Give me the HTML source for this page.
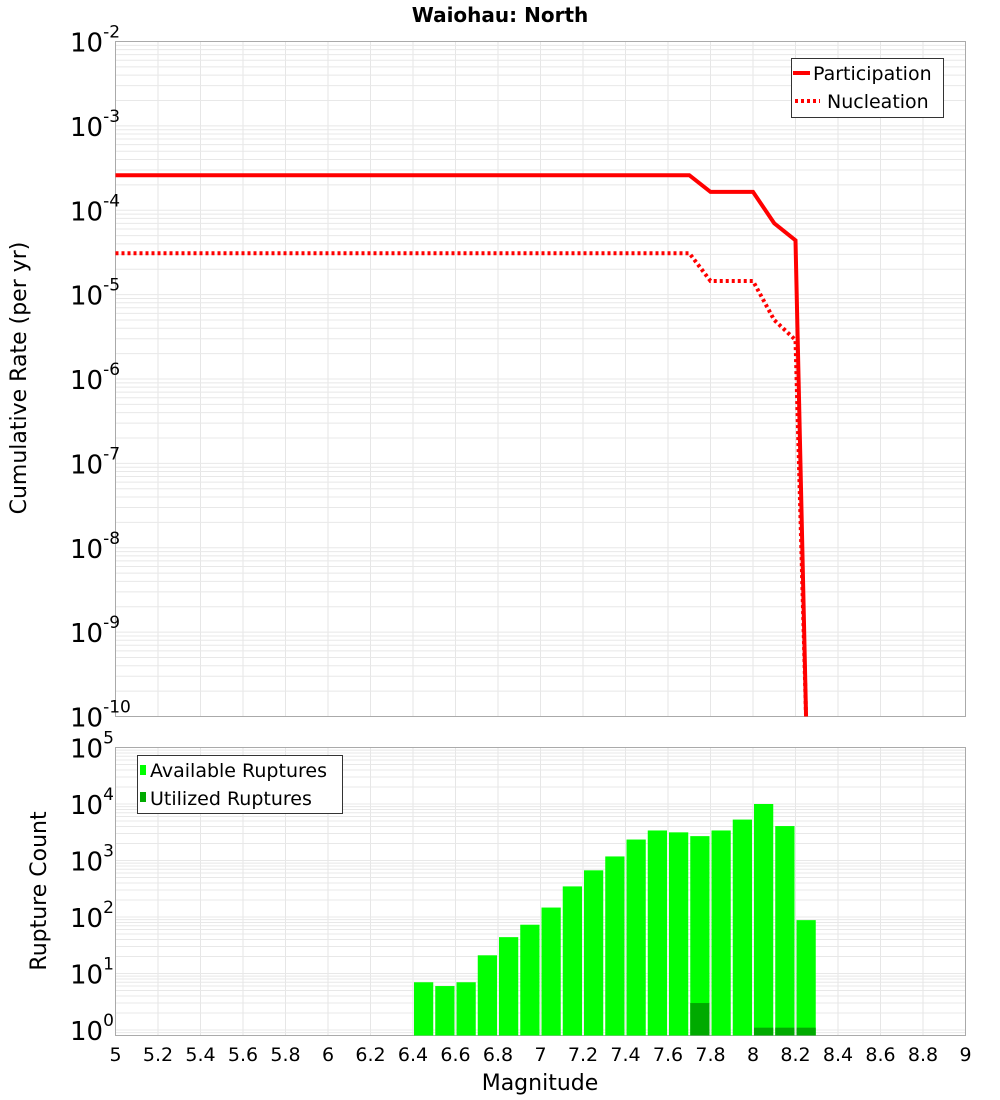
<!DOCTYPE html>
<html><head><meta charset="utf-8">
<style>
body{margin:0;background:#fff;font-family:"DejaVu Sans","Liberation Sans",sans-serif;}
svg{display:block}
</style></head>
<body>
<svg id="chart" width="1000" height="1100" xmlns="http://www.w3.org/2000/svg" font-family="DejaVu Sans, Liberation Sans, sans-serif">
<text x="500" y="22" text-anchor="middle" font-size="20" font-weight="bold">Waiohau: North</text>
<g id="topg"></g>
<g id="botg"></g>
<text transform="translate(26,378) rotate(-90)" text-anchor="middle" font-size="22">Cumulative Rate (per yr)</text>
<text transform="translate(46,891) rotate(-90)" text-anchor="middle" font-size="22">Rupture Count</text>
<text x="540" y="1090" text-anchor="middle" font-size="22">Magnitude</text>
</svg>
<script>
const partMags=[5,7.7,7.8,8.0,8.1,8.2,8.25];
const partRates=[2.6e-4,2.6e-4,1.65e-4,1.65e-4,7e-5,4.4e-5,1e-11];
const nuclMags=[5,7.7,7.8,8.0,8.1,8.2,8.25];
const nuclRates=[3.1e-5,3.1e-5,1.45e-5,1.45e-5,5e-6,2.9e-6,1e-11];
const binMags=[6.45,6.55,6.65,6.75,6.85,6.95,7.05,7.15,7.25,7.35,7.45,7.55,7.65,7.75,7.85,7.95,8.05,8.15,8.25];
const availCounts=[7,6,7,21,44,73,147,348,670,1180,2350,3400,3150,2700,3400,5300,10000,4070,88];
const usedCounts=[0,0,0,0,0,0,0,0,0,0,0,0,0,3,0,0,1.1,1.1,1.1];
const xTicks=[5,5.2,5.4,5.6,5.8,6,6.2,6.4,6.6,6.8,7,7.2,7.4,7.6,7.8,8,8.2,8.4,8.6,8.8,9];
const topExps=[-2,-3,-4,-5,-6,-7,-8,-9,-10];
const botExps=[5,4,3,2,1,0];

const NS='http://www.w3.org/2000/svg';
const L=115.5,R=965.5;
const X=m=>L+(m-5)/4*(R-L);
const TT=41.5,TB=716.5;
const YT=v=>TT+(-2-Math.log10(v))*(TB-TT)/8;
const BT=747.5,B0=1030,BB=1035.5;
const YB=v=>BT+(5-Math.log10(v))*(B0-BT)/5;
function el(p,t,a,txt){const e=document.createElementNS(NS,t);for(const k in a)e.setAttribute(k,a[k]);if(txt!==undefined)e.textContent=txt;p.appendChild(e);return e;}
const topG=document.getElementById('topg'),botG=document.getElementById('botg');

function grid(g,y0,y1,expLo,expHi,Y){
  for(const m of xTicks){const l=el(g,'line',{x1:X(m),x2:X(m),y1:y0,y2:y1,stroke:'#e6e6e6'});
    
    }
  for(let e=expLo;e<expHi;e++)for(let k=1;k<10;k++){const y=Y(k*Math.pow(10,e));if(y<y0||y>y1)continue;
    const l=el(g,'line',{x1:L,x2:R,y1:y,y2:y,stroke:'#e8e8e8'});
    
    }
}
// top plot
const tp=el(topG,'rect',{x:L,y:TT,width:R-L,height:TB-TT,fill:'#fff'});


grid(topG,TT,TB,-10,-2,YT);
el(topG,'rect',{x:L,y:TT,width:R-L,height:TB-TT,fill:'none',stroke:'#aaa'});
for(const e of topExps){const y=YT(Math.pow(10,e));
  const t=el(topG,'text',{x:70,y:y+10,'font-size':26});
  
  
  el(t,'tspan',{},'10');el(t,'tspan',{dy:-14,'font-size':17},String(e));}
function linePath(ms,vs){return ms.map((m,i)=>(i?'L':'M')+X(m).toFixed(1)+','+Math.min(YT(vs[i]),TB+2).toFixed(1)).join(' ');}
const cl=el(topG,'clipPath',{id:'tc'});el(cl,'rect',{x:L,y:TT,width:R-L,height:TB-TT});
const pl=el(topG,'path',{d:linePath(partMags,partRates),fill:'none',stroke:'#ff0000','stroke-width':4,'clip-path':'url(#tc)'});


const nl=el(topG,'path',{d:linePath(nuclMags,nuclRates),fill:'none',stroke:'#ff0000','stroke-width':4,'stroke-dasharray':'3,3','clip-path':'url(#tc)'});


const lg=el(topG,'g',{});


el(lg,'rect',{x:791.5,y:58.5,width:152,height:59,fill:'#fff',stroke:'#333'});
el(lg,'line',{x1:793,x2:810,y1:73,y2:73,stroke:'#f00','stroke-width':4});
el(lg,'text',{x:813,y:80,'font-size':19},'Participation');
el(lg,'line',{x1:795,x2:820,y1:101,y2:101,stroke:'#f00','stroke-width':4,'stroke-dasharray':'3,3'});
el(lg,'text',{x:827,y:108,'font-size':19},'Nucleation');

// bottom plot
grid(botG,BT,BB,-1,5,YB);
el(botG,'rect',{x:L,y:BT,width:R-L,height:BB-BT,fill:'none',stroke:'#aaa'});
for(const e of botExps){const y=YB(Math.pow(10,e));
  const t=el(botG,'text',{x:70,y:y+10,'font-size':26});
  
  
  el(t,'tspan',{},'10');el(t,'tspan',{dy:-14,'font-size':17},String(e));}
const bw=(X(0.1)-X(0));
binMags.forEach((m,i)=>{
  const y=YB(availCounts[i]);
  const b=el(botG,'rect',{x:X(m)-bw/2+1,y:y,width:bw-2,height:BB-y,fill:'#00ff00'});
  
  
  if(usedCounts[i]>0){const yu=YB(usedCounts[i]);
    const u=el(botG,'rect',{x:X(m)-bw/2+1,y:yu,width:bw-2,height:BB-yu,fill:'#00aa00'});
    
    }
});
for(const m of xTicks){const t=el(botG,'text',{x:X(m),y:1061,'text-anchor':'middle','font-size':19},String(m));
  
  }
const bl=el(botG,'g',{});


el(bl,'rect',{x:137.5,y:755.5,width:205,height:58,fill:'#fff',stroke:'#333'});
el(bl,'rect',{x:140,y:765,width:6,height:10,fill:'#00ff00'});
el(bl,'text',{x:150,y:777,'font-size':19},'Available Ruptures');
el(bl,'rect',{x:140,y:792,width:6,height:10,fill:'#00aa00'});
el(bl,'text',{x:150,y:805,'font-size':19},'Utilized Ruptures');
</script>
</body></html>
